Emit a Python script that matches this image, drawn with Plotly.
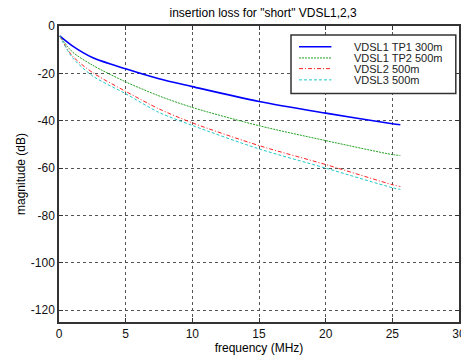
import plotly.graph_objects as go

freq = [0.05, 1, 2.5, 5, 7.5, 10, 15, 20, 25, 25.6]
vdsl1_tp1_300 = [-4.2, -8.4, -13.3, -18.1, -22.3, -25.6, -31.9, -36.8, -41.3, -41.7]
vdsl1_tp2_500 = [-4.2, -10.9, -16.5, -23.6, -29.5, -34.4, -42.1, -48.4, -54.3, -54.7]
vdsl2_500 = [-4.2, -12.6, -19.6, -27.6, -35.0, -40.9, -50.5, -58.5, -67.0, -67.8]
vdsl3_500 = [-4.2, -13.3, -21.0, -28.6, -36.5, -42.0, -51.9, -60.0, -68.3, -69.0]

names = ["VDSL1 TP1 300m", "VDSL1 TP2 500m", "VDSL2 500m", "VDSL3 500m"]
series = [vdsl1_tp1_300, vdsl1_tp2_500, vdsl2_500, vdsl3_500]
colors = ["#0000ff", "#22a022", "#ff2020", "#20c8c8"]
dashes = ["solid", "2px,1px", "4px,2px,1px,2px", "3px,2px"]
widths = [1.6, 1.0, 1.0, 1.0]

x_ticks = [0, 5, 10, 15, 20, 25, 30]
y_ticks = [0, -20, -40, -60, -80, -100, -120]

fig = go.Figure()
for n, s, c, d, w in zip(names, series, colors, dashes, widths):
    fig.add_trace(go.Scatter(x=freq, y=s, name=n, mode="lines", showlegend=False,
                             line=dict(color=c, dash=d, width=w, shape="spline", smoothing=0.8)))

# manual compact legend (MATLAB style)
leg_x0, leg_x1, leg_y0, leg_y1 = 0.58, 0.992, 0.772, 0.970
key_x0, key_x1, text_x = 0.600, 0.681, 0.732
key_y = [0.930, 0.892, 0.856, 0.818]
fig.add_shape(type="rect", xref="paper", yref="paper", x0=leg_x0, x1=leg_x1, y0=leg_y0, y1=leg_y1,
              line=dict(color="#333333", width=1.5), fillcolor="white", layer="above")
for n, c, d, w, ky in zip(names, colors, dashes, widths, key_y):
    fig.add_shape(type="line", xref="paper", yref="paper", x0=key_x0, x1=key_x1, y0=ky, y1=ky,
                  line=dict(color=c, dash=d, width=w), layer="above")
    fig.add_annotation(xref="paper", yref="paper", x=text_x, y=ky, text=n, showarrow=False,
                       xanchor="left", yanchor="middle",
                       font=dict(family="Liberation Sans, Arial", size=11, color="#222"))

axis_common = dict(
    showgrid=True, gridcolor="#555555", griddash="dot", gridwidth=0.8,
    showline=True, linecolor="#333333", linewidth=1.5, mirror="allticks",
    ticks="inside", ticklen=4, tickcolor="#333333", zeroline=False,
    ticklabeloverflow="allow",
    tickfont=dict(family="Liberation Sans, Arial", size=12, color="#111"),
)

# The page body keeps its default 8px margin, so the figure is offset by 8px;
# margins/title are compensated so the plot area lands where the reference has it.
fig.update_layout(
    width=469, height=360,
    margin=dict(l=47, r=11, t=17, b=46),
    paper_bgcolor="white", plot_bgcolor="white",
    font=dict(family="Liberation Sans, Arial", size=12, color="#000"),
    title=dict(text='insertion loss for "short" VDSL1,2,3', x=0.544, xanchor="center",
               y=0.986, yanchor="middle", font=dict(size=12)),
    xaxis=dict(range=[0, 30], tickvals=x_ticks, ticktext=[str(v) for v in x_ticks],
               title=dict(text="frequency (MHz)", standoff=3, font=dict(size=12)), **axis_common),
    yaxis=dict(range=[-125, 0], tickvals=y_ticks, ticktext=[str(v) for v in y_ticks],
               title=dict(text="magnitude (dB)", standoff=3, font=dict(size=12)), **axis_common),
    showlegend=False,
)

fig.write_html("out.html", config={"displayModeBar": False})
